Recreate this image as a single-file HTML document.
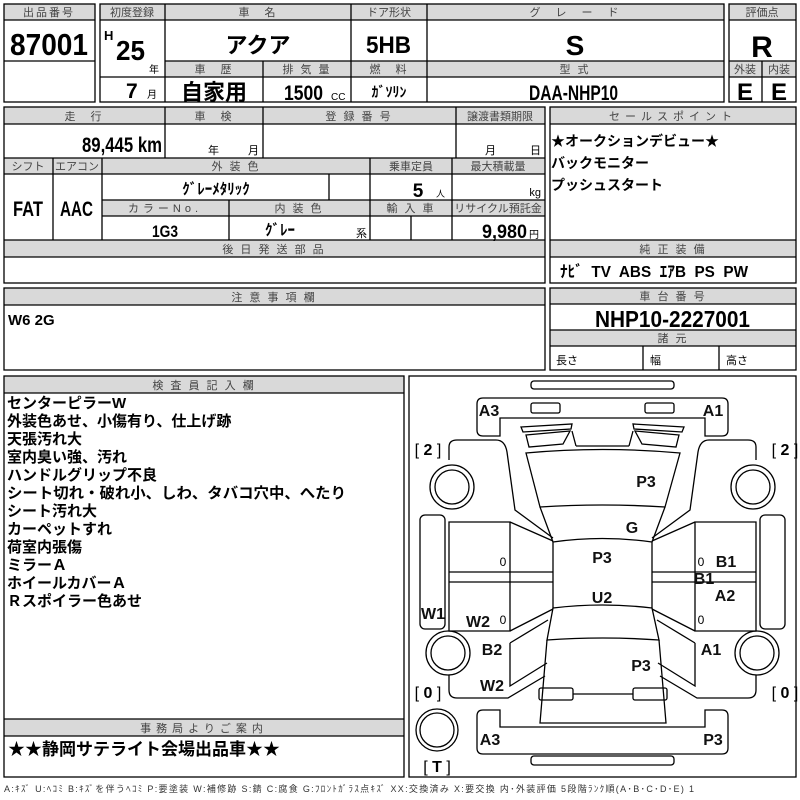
<!DOCTYPE html>
<html><head><meta charset="utf-8"><style>
html,body{margin:0;padding:0;background:#fff}
svg{display:block}
text{font-family:"Liberation Sans","Noto Sans CJK JP",sans-serif}
.h{font-size:11px;fill:#444;text-anchor:middle;letter-spacing:2px}
.b{font-weight:bold;fill:#000}
.n{font-family:"Liberation Sans","Noto Sans CJK JP",sans-serif;font-weight:bold}
.c{text-anchor:middle}
.g{fill:#d9d9d9}
.l{stroke:#000;stroke-width:1.3;fill:none}
.cl{font-weight:bold;font-size:16px;text-anchor:middle;fill:#111}
</style></head><body>
<svg width="800" height="800" viewBox="0 0 800 800" xmlns="http://www.w3.org/2000/svg">
<rect width="800" height="800" fill="#fff"/>
<rect class="g" x="4" y="4" width="91" height="16"/>
<rect class="g" x="100" y="4" width="624" height="16"/>
<rect class="g" x="165" y="61" width="559" height="16"/>
<rect class="g" x="729" y="4" width="67" height="16"/>
<rect class="g" x="729" y="61" width="67" height="16"/>
<g class="l">
<rect x="4" y="4" width="91" height="98"/>
<path d="M4 20H95M4 61H95"/>
<rect x="100" y="4" width="624" height="98"/>
<path d="M100 20H724M165 61H724M100 77H724M165 4V102M351 4V102M427 4V102M263 61V102"/>
<rect x="729" y="4" width="67" height="98"/>
<path d="M729 20H796M729 61H796M729 77H796M762 61V102"/>
</g>
<text class="h" x="49" y="16">出品番号</text>
<text class="n" x="10" y="55" font-size="31" textLength="78" lengthAdjust="spacingAndGlyphs">87001</text>
<text class="h" x="132" y="16" style="letter-spacing:0">初度登録</text>
<text class="h" x="258" y="16">車　名</text>
<text class="h" x="389" y="16" style="letter-spacing:0">ドア形状</text>
<text class="h" x="575" y="16">グ　レ　ー　ド</text>
<text class="n" x="104" y="40" font-size="13">H</text>
<text class="n" x="116" y="60" font-size="28" textLength="29" lengthAdjust="spacingAndGlyphs">25</text>
<text x="149" y="73" font-size="10">年</text>
<text class="n" x="126" y="98" font-size="21">7</text>
<text x="147" y="98" font-size="10">月</text>
<text class="b c" x="258" y="53" font-size="22">アクア</text>
<text class="n" x="366" y="53" font-size="24" textLength="45" lengthAdjust="spacingAndGlyphs">5HB</text>
<text class="n c" x="575" y="55" font-size="28">S</text>
<text class="h" x="214" y="73">車　歴</text>
<text class="h" x="307" y="73">排 気 量</text>
<text class="h" x="389" y="73">燃　料</text>
<text class="h" x="575" y="73">型 式</text>
<text class="b c" x="214" y="100" font-size="22">自家用</text>
<text class="n" x="284" y="100" font-size="21" textLength="39" lengthAdjust="spacingAndGlyphs">1500</text>
<text x="331" y="100" font-size="10">CC</text>
<text class="b c" x="389" y="97" font-size="14">ｶﾞｿﾘﾝ</text>
<text class="n" x="529" y="100" font-size="21" textLength="89" lengthAdjust="spacingAndGlyphs">DAA-NHP10</text>
<text class="h" x="762" y="16" style="letter-spacing:0">評価点</text>
<text class="n c" x="762" y="57" font-size="30">R</text>
<text class="h" x="745" y="73" style="letter-spacing:0">外装</text>
<text class="h" x="779" y="73" style="letter-spacing:0">内装</text>
<text class="n c" x="745" y="100" font-size="24">E</text>
<text class="n c" x="779" y="100" font-size="24">E</text>

<rect class="g" x="4" y="107" width="541" height="17"/>
<rect class="g" x="4" y="158" width="541" height="16"/>
<rect class="g" x="102" y="200" width="443" height="16"/>
<rect class="g" x="4" y="240" width="541" height="17"/>
<rect class="g" x="550" y="107" width="246" height="17"/>
<rect class="g" x="550" y="240" width="246" height="17"/>
<g class="l">
<rect x="4" y="107" width="541" height="176"/>
<path d="M4 124H545M4 158H545M4 174H545M102 200H545M102 216H545M4 240H545M4 257H545"/>
<path d="M165 107V158M263 107V158M456 107V158M53 158V240M102 158V240M370 158V240M452 158V240M329 174V200M229 200V240M411 216V240"/>
<rect x="550" y="107" width="246" height="176"/>
<path d="M550 124H796M550 240H796M550 257H796"/>
</g>
<text class="h" x="84" y="120">走　行</text>
<text class="h" x="214" y="120">車　検</text>
<text class="h" x="359" y="120">登 録 番 号</text>
<text class="h" x="500" y="120" style="letter-spacing:0">譲渡書類期限</text>
<text class="n" x="82" y="152" font-size="21" textLength="80" lengthAdjust="spacingAndGlyphs">89,445 km</text>
<text x="208" y="154" font-size="11">年</text>
<text x="248" y="154" font-size="11">月</text>
<text x="485" y="154" font-size="11">月</text>
<text x="530" y="154" font-size="11">日</text>
<text class="h" x="28" y="170" style="letter-spacing:0">シフト</text>
<text class="h" x="77" y="170" style="letter-spacing:0">エアコン</text>
<text class="h" x="236" y="170">外 装 色</text>
<text class="h" x="411" y="170" style="letter-spacing:0">乗車定員</text>
<text class="h" x="498" y="170" style="letter-spacing:0">最大積載量</text>
<text class="n" x="13" y="216" font-size="21" textLength="30" lengthAdjust="spacingAndGlyphs">FAT</text>
<text class="n" x="60" y="216" font-size="21" textLength="33" lengthAdjust="spacingAndGlyphs">AAC</text>
<text class="b c" x="216" y="194" font-size="15">ｸﾞﾚｰﾒﾀﾘｯｸ</text>
<text class="n c" x="418" y="197" font-size="19">5</text>
<text x="436" y="197" font-size="9">人</text>
<text x="541" y="196" font-size="11" text-anchor="end">kg</text>
<text class="h" x="165" y="212" style="letter-spacing:4px">カラーNo.</text>
<text class="h" x="299" y="212">内 装 色</text>
<text class="h" x="411" y="212">輸 入 車</text>
<text class="h" x="498" y="212" style="letter-spacing:0">リサイクル預託金</text>
<text class="n" x="152" y="237" font-size="17" textLength="26" lengthAdjust="spacingAndGlyphs">1G3</text>
<text class="b c" x="280" y="235" font-size="15">ｸﾞﾚｰ</text>
<text x="356" y="237" font-size="11">系</text>
<text class="n" x="482" y="238" font-size="19" textLength="45" lengthAdjust="spacingAndGlyphs">9,980</text>
<text x="529" y="238" font-size="10">円</text>
<text class="h" x="274" y="253">後 日 発 送 部 品</text>
<text class="h" x="673" y="120" style="letter-spacing:5px">セールスポイント</text>
<text class="b" x="551" y="146" font-size="14">★オークションデビュー★</text>
<text class="b" x="551" y="168" font-size="14">バックモニター</text>
<text class="b" x="551" y="190" font-size="14">プッシュスタート</text>
<text class="h" x="673" y="253">純 正 装 備</text>
<text class="n" x="560" y="277" font-size="16" textLength="188" lengthAdjust="spacingAndGlyphs" xml:space="preserve">ﾅﾋﾞ  TV  ABS  ｴｱB  PS  PW</text>

<rect class="g" x="4" y="288" width="541" height="17"/>
<rect class="g" x="550" y="288" width="246" height="16"/>
<rect class="g" x="550" y="330" width="246" height="16"/>
<g class="l">
<rect x="4" y="288" width="541" height="82"/>
<path d="M4 305H545"/>
<rect x="550" y="288" width="246" height="82"/>
<path d="M550 304H796M550 330H796M550 346H796M643 346V370M719 346V370"/>
</g>
<text class="h" x="274" y="301">注 意 事 項 欄</text>
<text class="b" x="8" y="325" font-size="15" font-family="Liberation Mono" xml:space="preserve">W6 2G</text>
<text class="h" x="673" y="300">車 台 番 号</text>
<text class="n" x="595" y="327" font-size="23" textLength="155" lengthAdjust="spacingAndGlyphs">NHP10-2227001</text>
<text class="h" x="673" y="342">諸 元</text>
<text x="556" y="364" font-size="11">長さ</text>
<text x="650" y="364" font-size="11">幅</text>
<text x="726" y="364" font-size="11">高さ</text>

<rect class="g" x="4" y="376" width="400" height="17"/>
<rect class="g" x="4" y="719" width="400" height="17"/>
<g class="l">
<rect x="4" y="376" width="400" height="401"/>
<path d="M4 393H404M4 719H404M4 736H404"/>
</g>
<text class="h" x="204" y="389">検 査 員 記 入 欄</text>
<g class="b" font-size="15">
<text x="7" y="408">センターピラーW</text>
<text x="7" y="426">外装色あせ、小傷有り、仕上げ跡</text>
<text x="7" y="444">天張汚れ大</text>
<text x="7" y="462">室内臭い強、汚れ</text>
<text x="7" y="480">ハンドルグリップ不良</text>
<text x="7" y="498" textLength="339" lengthAdjust="spacingAndGlyphs">シート切れ・破れ小、しわ、タバコ穴中、へたり</text>
<text x="7" y="516">シート汚れ大</text>
<text x="7" y="534">カーペットすれ</text>
<text x="7" y="552">荷室内張傷</text>
<text x="7" y="570">ミラーＡ</text>
<text x="7" y="588">ホイールカバーＡ</text>
<text x="7" y="606">Ｒスポイラー色あせ</text>
</g>
<text class="h" x="204" y="732" style="letter-spacing:5px">事務局よりご案内</text>
<text class="b" x="8" y="755" font-size="17">★★静岡サテライト会場出品車★★</text>
<text x="4" y="792" font-size="9" fill="#333" textLength="690" lengthAdjust="spacing">A:ｷｽﾞ  U:ﾍｺﾐ  B:ｷｽﾞを伴うﾍｺﾐ  P:要塗装  W:補修跡  S:錆  C:腐食  G:ﾌﾛﾝﾄｶﾞﾗｽ点ｷｽﾞ  XX:交換済み  X:要交換   内･外装評価   5段階ﾗﾝｸ順(A･B･C･D･E) 1</text>

<rect x="409" y="376" width="387" height="401" class="l"/>
<g class="l" stroke-width="1.1">
<rect x="531" y="381" width="143" height="8" rx="3"/>
<rect x="531" y="756" width="143" height="9" rx="3"/>
<path d="M477 404Q477 398 483 398H722Q728 398 728 404V430Q728 436 722 436H705V418H500V436H483Q477 436 477 430Z"/>
<rect x="531" y="403" width="29" height="10" rx="2"/>
<rect x="645" y="403" width="29" height="10" rx="2"/>
<path d="M477 748Q477 754 483 754H722Q728 754 728 748V716Q728 710 722 710H705V727H500V710H483Q477 710 477 716Z"/>
<path d="M521 427L572 424L571 429L523 432Z"/>
<path d="M526 435L570 431L563 444L529 447Z"/>
<path d="M684 427L633 424L634 429L682 432Z"/>
<path d="M679 435L635 431L642 444L676 447Z"/>
<path d="M576 446H629M572 431L576 446M633 431L629 446"/>
<path d="M526 453Q602 446 680 453L665 507Q602 503 540 507Z"/>
<path d="M540 507L553 542M665 507L652 542"/>
<path d="M553 542Q602 535 652 542V608Q602 602 553 608Z"/>
<path d="M553 608L547 640Q602 636 659 640L652 608"/>
<path d="M547 640L540 723H666L659 640"/>
<rect x="539" y="688" width="34" height="12" rx="2"/>
<rect x="633" y="688" width="34" height="12" rx="2"/>
<path d="M573 694H633"/>
<g id="side">
<path d="M449 460V447Q449 440 457 440H496Q505 440 507 452L515 510L553 538"/>
<circle cx="452" cy="487" r="22"/><circle cx="452" cy="487" r="17"/>
<rect x="420" y="515" width="25" height="114" rx="5"/>
<path d="M449 522H510V631H449ZM510 522L553 541M449 572H553M449 582H553M510 631L553 609"/>
<circle cx="448" cy="653" r="22"/><circle cx="448" cy="653" r="17"/>
<path d="M510 643V686L547 663M510 643L548 620M449 675V690Q449 698 457 698H508L545 676"/>
</g>
<use href="#side" transform="translate(1205,0) scale(-1,1)"/>
<circle cx="437" cy="730" r="21"/><circle cx="437" cy="730" r="17"/>
</g>
<g>
<text class="cl" x="489" y="416">A3</text>
<text class="cl" x="713" y="416">A1</text>
<text x="428" y="455" font-size="16" text-anchor="middle" xml:space="preserve">[ <tspan font-weight="bold">2</tspan> ]</text>
<text x="785" y="455" font-size="16" text-anchor="middle" xml:space="preserve">[ <tspan font-weight="bold">2</tspan> ]</text>
<text class="cl" x="646" y="487">P3</text>
<text class="cl" x="632" y="533">G</text>
<text class="cl" x="602" y="563">P3</text>
<text class="cl" x="602" y="603">U2</text>
<text class="cl" x="726" y="567">B1</text>
<text class="cl" x="704" y="584">B1</text>
<text class="cl" x="725" y="601">A2</text>
<text x="503" y="566" font-size="12" text-anchor="middle">0</text>
<text x="701" y="566" font-size="12" text-anchor="middle">0</text>
<text x="503" y="624" font-size="12" text-anchor="middle">0</text>
<text x="701" y="624" font-size="12" text-anchor="middle">0</text>
<text class="cl" x="433" y="619">W1</text>
<text class="cl" x="478" y="627">W2</text>
<text class="cl" x="492" y="655">B2</text>
<text class="cl" x="492" y="691">W2</text>
<text class="cl" x="711" y="655">A1</text>
<text class="cl" x="641" y="671">P3</text>
<text x="428" y="698" font-size="16" text-anchor="middle" xml:space="preserve">[ <tspan font-weight="bold">0</tspan> ]</text>
<text x="785" y="698" font-size="16" text-anchor="middle" xml:space="preserve">[ <tspan font-weight="bold">0</tspan> ]</text>
<text class="cl" x="490" y="745">A3</text>
<text class="cl" x="713" y="745">P3</text>
<text x="437" y="772" font-size="16" text-anchor="middle" xml:space="preserve">[ <tspan font-weight="bold">T</tspan> ]</text>
</g>
</svg>
</body></html>
